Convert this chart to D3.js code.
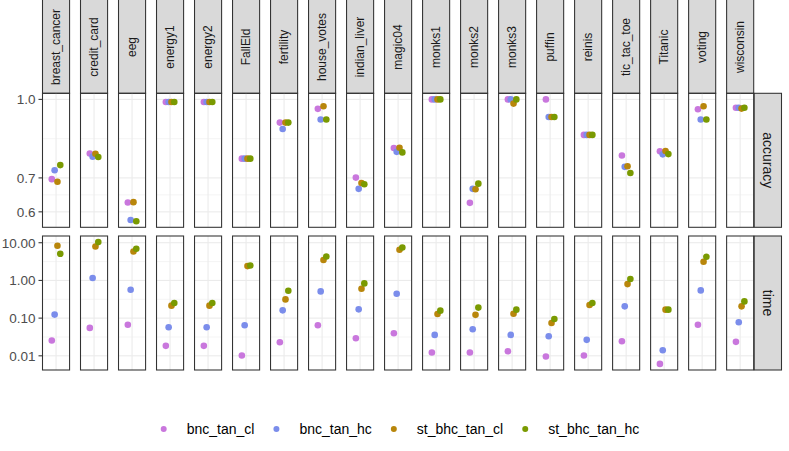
<!DOCTYPE html>
<html lang="en">
<head>
	<meta charset="UTF-8"/>
	<title>accuracy and time by dataset</title>
	<script src="https://d3js.org/d3.v7.min.js"></script>
	<style>
		body { margin:0; background:#fff; }
		text { font-family: "Liberation Sans", Arial, sans-serif; }
	</style>
</head>
<body>
	<script>

	var w = 789;
	var h = 451;

	var datasets = ["breast_cancer","credit_card","eeg","energy1","energy2","FallEld","fertility",
					"house_votes","indian_liver","magic04","monks1","monks2","monks3","puffin",
					"reinis","tic_tac_toe","Titanic","voting","wisconsin"];

	var methods = ["bnc_tan_cl","bnc_tan_hc","st_bhc_tan_cl","st_bhc_tan_hc"];
	var colours = ["#C977DD","#7B8DEB","#B8860B","#7A9A01"];

	// accuracy, one array per method, same order as datasets
	var accBncCl  = [0.696,0.782,0.626,0.988,0.988,0.764,0.900,0.958,0.701,0.802,1.000,0.625,1.000,1.000,0.851,0.775,0.790,0.956,0.963];
	var accBncHc  = [0.725,0.771,0.578,0.988,0.988,0.764,0.874,0.913,0.666,0.788,1.000,0.666,1.000,0.923,0.851,0.736,0.779,0.913,0.963];
	var accStCl   = [0.688,0.781,0.627,0.988,0.988,0.764,0.900,0.969,0.684,0.803,1.000,0.665,0.981,0.923,0.851,0.738,0.791,0.969,0.959];
	var accStHc   = [0.742,0.770,0.575,0.988,0.988,0.764,0.900,0.913,0.680,0.786,1.000,0.682,1.000,0.923,0.851,0.716,0.780,0.913,0.963];

	// time (log scale)
	var timeBncCl = [0.0254,0.055,0.067,0.0184,0.0184,0.0102,0.0229,0.0645,0.0292,0.0396,0.0122,0.0122,0.0132,0.0096,0.0102,0.0244,0.0061,0.067,0.0235];
	var timeBncHc = [0.124,1.16,0.568,0.057,0.057,0.0645,0.161,0.512,0.171,0.445,0.0359,0.0506,0.0359,0.033,0.0265,0.205,0.0141,0.544,0.0775];
	var timeStCl  = [8.28,7.94,5.85,0.214,0.214,2.40,0.314,3.47,0.603,6.49,0.129,0.122,0.131,0.0745,0.223,0.80,0.168,3.12,0.205];
	var timeStHc  = [5.08,10.4,6.9,0.252,0.252,2.49,0.534,4.31,0.833,7.46,0.158,0.19,0.168,0.095,0.252,1.09,0.168,4.24,0.278];

	var accTicks  = [0.6,0.7,1.0];
	var accLabels = ["0.6","0.7","1.0"];
	var timeTicks  = [0.01,0.1,1,10];
	var timeLabels = ["0.01","0.10","1.00","10.00"];

	var accSeries  = [accBncCl, accBncHc, accStCl, accStHc];
	var timeSeries = [timeBncCl, timeBncHc, timeStCl, timeStHc];

	var panelLeft = 42.5, panelRight = 753.7, stripW = 27.3, stripH = 93.3;

	// facet columns
	var fx = d3.scaleBand()
				.domain(datasets)
				.range([panelLeft, panelRight])
				.paddingInner(0.2876);
	var bw = fx.bandwidth();

	// one discrete x level, dodged by method
	var xIn = d3.scaleLinear().domain([0.4, 1.6]).range([0, bw]);
	var dodge = d3.scalePoint().domain(methods).range([1 - 0.1875, 1 + 0.1875]);

	// log domain with 5% expansion, like ggplot
	function expandedLog(series) {
		var all = d3.merge(series);
		var lo = Math.log10(d3.min(all)), hi = Math.log10(d3.max(all));
		var pad = (hi - lo) * 0.05;
		return [Math.pow(10, lo - pad), Math.pow(10, hi + pad)];
	}

	var rows = [
		{ name: "accuracy", top: 93.3, bottom: 227.3, series: accSeries, ticks: accTicks, labels: accLabels },
		{ name: "time", top: 236, bottom: 370, series: timeSeries, ticks: timeTicks, labels: timeLabels }
	];
	rows.forEach(function(r) {
		r.y = d3.scaleLog().domain(expandedLog(r.series)).range([r.bottom, r.top]);
		// minor lines halfway between majors in log space
		r.minor = [];
		var t = r.ticks.map(Math.log10);
		var step = t[1] - t[0];
		r.minor.push(Math.pow(10, t[0] - step / 2));
		for (var i = 0; i < t.length - 1; i++) r.minor.push(Math.pow(10, (t[i] + t[i + 1]) / 2));
		r.minor.push(Math.pow(10, t[t.length - 1] + (t[t.length - 1] - t[t.length - 2]) / 2));
	});

	var svg = d3.select("body")
				.append("svg")
				.attr("width", w)
				.attr("height", h);

	// top strips
	var strips = svg.selectAll("g.strip")
		.data(datasets)
		.enter()
		.append("g")
		.attr("class", "strip");
	strips.append("rect")
		.attr("x", function(d) { return fx(d); })
		.attr("y", -1)
		.attr("width", bw)
		.attr("height", stripH + 1)
		.attr("fill", "#D9D9D9")
		.attr("stroke", "#333333")
		.attr("stroke-width", 1.07);
	strips.append("text")
		.attr("transform", function(d) { return "translate(" + (fx(d) + bw / 2) + "," + 47 + ") rotate(-90)"; })
		.attr("text-anchor", "middle")
		.attr("dy", "0.35em")
		.attr("font-size", 12)
		.attr("fill", "#1A1A1A")
		.text(function(d) { return d; });

	rows.forEach(function(r) {
		var g = svg.append("g");

		var panels = g.selectAll("g.panel")
			.data(datasets)
			.enter()
			.append("g")
			.attr("transform", function(d) { return "translate(" + fx(d) + ",0)"; });

		// grid
		panels.selectAll("line.minor")
			.data(r.minor.filter(function(v) { return r.y(v) > r.top && r.y(v) < r.bottom; }))
			.enter()
			.append("line")
			.attr("x1", 0).attr("x2", bw)
			.attr("y1", function(v) { return r.y(v); })
			.attr("y2", function(v) { return r.y(v); })
			.attr("stroke", "#EBEBEB")
			.attr("stroke-width", 0.55);
		panels.selectAll("line.major")
			.data(r.ticks)
			.enter()
			.append("line")
			.attr("x1", 0).attr("x2", bw)
			.attr("y1", function(v) { return r.y(v); })
			.attr("y2", function(v) { return r.y(v); })
			.attr("stroke", "#EBEBEB")
			.attr("stroke-width", 1.1);
		panels.append("line")
			.attr("x1", xIn(1)).attr("x2", xIn(1))
			.attr("y1", r.top).attr("y2", r.bottom)
			.attr("stroke", "#EBEBEB")
			.attr("stroke-width", 1.1);

		// points, drawn method by method
		panels.each(function(ds, i) {
			var p = d3.select(this);
			methods.forEach(function(m, j) {
				p.append("circle")
					.attr("cx", xIn(dodge(m)))
					.attr("cy", r.y(r.series[j][i]))
					.attr("r", 3.3)
					.attr("fill", colours[j]);
			});
		});

		panels.append("rect")
			.attr("x", 0).attr("y", r.top)
			.attr("width", bw).attr("height", r.bottom - r.top)
			.attr("fill", "none")
			.attr("stroke", "#333333")
			.attr("stroke-width", 1.07);

		// left axis
		var axis = g.append("g");
		axis.selectAll("line")
			.data(r.ticks)
			.enter()
			.append("line")
			.attr("x1", panelLeft - 4).attr("x2", panelLeft)
			.attr("y1", function(v) { return r.y(v); })
			.attr("y2", function(v) { return r.y(v); })
			.attr("stroke", "#333333")
			.attr("stroke-width", 1.07);
		axis.selectAll("text")
			.data(r.ticks)
			.enter()
			.append("text")
			.attr("x", panelLeft - 7)
			.attr("y", function(v) { return r.y(v); })
			.attr("dy", "0.36em")
			.attr("text-anchor", "end")
			.attr("font-size", 13.5)
			.attr("fill", "#4D4D4D")
			.text(function(v, k) { return r.labels[k]; });

		// right strip
		g.append("rect")
			.attr("x", panelRight + 0.5).attr("y", r.top)
			.attr("width", stripW).attr("height", r.bottom - r.top)
			.attr("fill", "#D9D9D9")
			.attr("stroke", "#333333")
			.attr("stroke-width", 1.07);
		g.append("text")
			.attr("transform", "translate(" + (panelRight + 0.5 + stripW / 2) + "," + ((r.top + r.bottom) / 2) + ") rotate(90)")
			.attr("text-anchor", "middle")
			.attr("dy", "0.35em")
			.attr("font-size", 14)
			.attr("fill", "#1A1A1A")
			.text(r.name);
	});

	// legend at the bottom
	var legend = svg.append("g");
	var items = legend.selectAll("g")
		.data(methods)
		.enter()
		.append("g");
	items.append("circle")
		.attr("r", 3)
		.attr("fill", function(d, i) { return colours[i]; });
	items.append("text")
		.attr("x", 23)
		.attr("dy", "0.35em")
		.attr("font-size", 14)
		.attr("fill", "#000")
		.text(function(d) { return d; });

	var pos = 0, starts = [];
	items.each(function(d, i) {
		starts.push(pos);
		pos += 23 + this.querySelector("text").getComputedTextLength() + 22;
	});
	var legendW = pos - 22 + 3;
	var lx = 400 - legendW / 2 + 3;
	items.attr("transform", function(d, i) { return "translate(" + (lx + starts[i]) + ",429)"; });

	</script>
</body>
</html>
